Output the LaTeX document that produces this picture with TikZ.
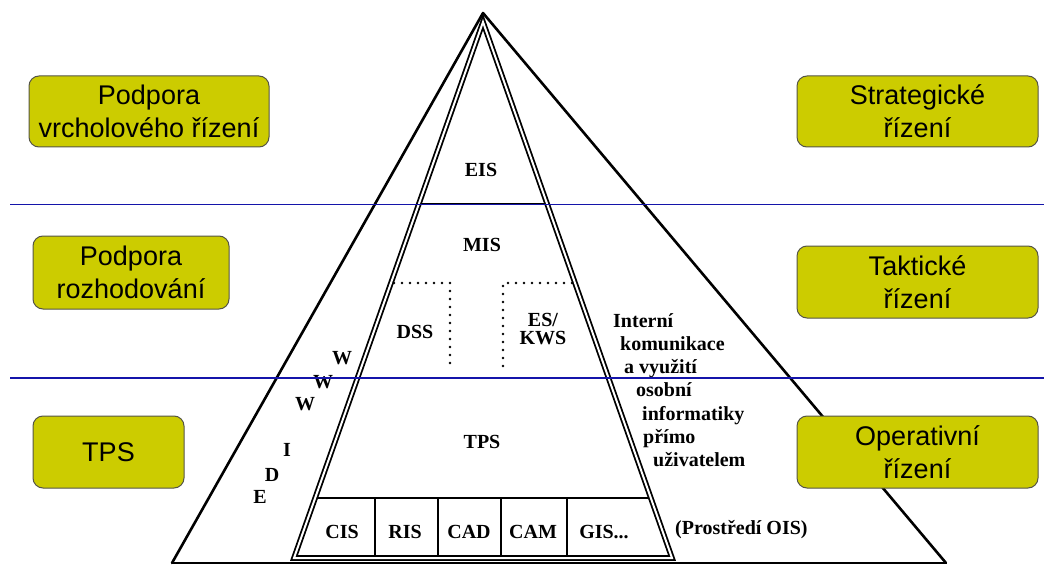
\documentclass[tikz,border=0pt]{standalone}
\usepackage{fontspec}
\setmainfont{Liberation Serif}
\newfontfamily\boxfont{Liberation Sans}
\definecolor{boxfill}{RGB}{204,204,0}
\definecolor{boxedge}{RGB}{85,85,70}
\definecolor{bandblue}{RGB}{20,20,170}
\begin{document}
\begin{tikzpicture}[x=1pt,y=-1pt,
  lvlbox/.style={draw=boxedge, fill=boxfill, rounded corners=10pt, line width=1pt,
    font=\boxfont\fontsize{27}{33}\selectfont, align=center, inner sep=0pt},
  lbl/.style={font=\bfseries\fontsize{20}{23}\selectfont, inner sep=0pt, align=center},
  pyr/.style={line width=2.6pt, line cap=round, line join=round},
  dbl/.style={line width=1.8pt, double=white, double distance=2pt},
  sep/.style={line width=2.4pt},
  cellsep/.style={line width=2pt},
  dots/.style={line width=2.6pt, line cap=round, dash pattern=on 0pt off 8pt},
  band/.style={bandblue, line width=1.1pt}]
\useasboundingbox (0,0) rectangle (1044,567);
\fill[white] (0,0) rectangle (1044,567);

% outer pyramid
\coordinate (apex) at (483,13);
\coordinate (obl) at (172,563);
\coordinate (obr) at (946,563);
\draw[pyr] (obl) -- (apex) -- (obr);
\draw[line width=2pt] (obl) -- (obr);

% inner double trapezoid
\coordinate (iapex) at (483,22);
\coordinate (ibl) at (294,558);
\coordinate (ibr) at (672,558);
\draw[dbl] (ibl) -- (iapex) -- (ibr) -- cycle;

% horizontal separators
\draw[sep] (421.8,204) -- (544.2,204);
\draw[sep] (360.5,378) -- (605.5,378);
\draw[sep] (318.2,498) -- (647.8,498);
\foreach \x in {375,438,501,567} \draw[cellsep] (\x,498) -- (\x,555);

% dotted boxes
\draw[dots] (394,283) -- (450,283) -- (450,370);
\draw[dots] (572,283) -- (503,283) -- (503,370);

% labels in pyramid
\node[lbl] (eis) at (481,170) {EIS};
\node[lbl] (mis) at (482,245) {MIS};
\node[lbl] (dss) at (415,332) {DSS};
\node[lbl, font=\bfseries\fontsize{20}{18.5}\selectfont] (es) at (543,329) {ES/\\KWS};
\node[lbl] (tps) at (482,442) {TPS};
\node[lbl] (cis) at (342,532) {CIS};
\node[lbl] (ris) at (405,532) {RIS};
\node[lbl] (cad) at (469,532) {CAD};
\node[lbl] (cam) at (533,532) {CAM};
\node[lbl] (gis) at (604,532) {GIS...};
\node[lbl, anchor=west] (ois) at (675,530) {(Prostředí OIS)};

% WWW EDI letters
\node[lbl] (w1) at (342,358) {W};
\node[lbl] (w2) at (323,382) {W};
\node[lbl] (w3) at (305,404) {W};
\node[lbl] (ei) at (287,450) {I};
\node[lbl] (ed) at (272,475) {D};
\node[lbl] (ee) at (260,497) {E};

% right-hand text
\node[lbl, anchor=base west] (t1) at (613,327) {Interní};
\node[lbl, anchor=base west] (t2) at (620,350.3) {komunikace};
\node[lbl, anchor=base west] (t3) at (624,373.6) {a využití};
\node[lbl, anchor=base west] (t4) at (636,396.9) {osobní};
\node[lbl, anchor=base west] (t5) at (642,420.2) {informatiky};
\node[lbl, anchor=base west] (t6) at (643,443.5) {přímo};
\node[lbl, anchor=base west] (t7) at (653,466.8) {uživatelem};

% side boxes
\node[lvlbox, minimum width=240pt, minimum height=71pt] (b1) at (149,111.5) {Podpora\\vrcholového řízení};
\node[lvlbox, minimum width=196pt, minimum height=73pt] (b2) at (131,272.5) {Podpora\\rozhodování};
\node[lvlbox, minimum width=151pt, minimum height=72pt] (b3) at (108.5,452) {TPS};
\node[lvlbox, minimum width=241pt, minimum height=71pt] (b4) at (917.5,111.5) {Strategické\\řízení};
\node[lvlbox, minimum width=241pt, minimum height=72pt] (b5) at (917.5,282) {Taktické\\řízení};
\node[lvlbox, minimum width=241pt, minimum height=72pt] (b6) at (917.5,452) {Operativní\\řízení};

% blue band lines
\draw[band] (10,204.5) -- (1044,204.5);
\draw[band] (10,378) -- (1044,378);
\end{tikzpicture}
\end{document}
